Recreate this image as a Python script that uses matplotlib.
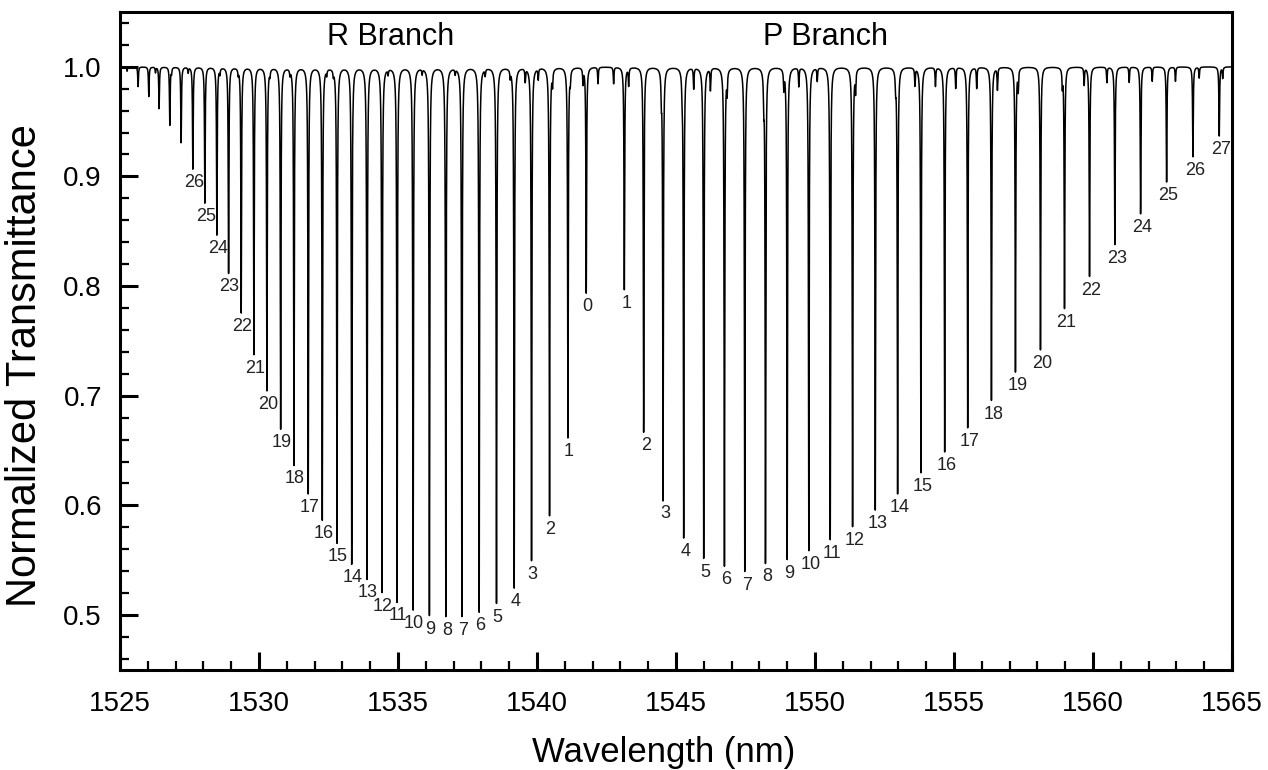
import numpy as np
import matplotlib.pyplot as plt
from matplotlib.ticker import MultipleLocator, FormatStrFormatter

plt.rcParams['font.family'] = ['Liberation Sans', 'DejaVu Sans']

# R branch lines, J = 0..31 (labels drawn for J <= 26)
r_center = [1541.773, 1541.114, 1540.452, 1539.804, 1539.181, 1538.544, 1537.921,
            1537.298, 1536.721, 1536.131, 1535.544, 1534.968, 1534.427, 1533.887,
            1533.336, 1532.807, 1532.278, 1531.773, 1531.259, 1530.780, 1530.286,
            1529.818, 1529.361, 1528.907, 1528.486, 1528.054, 1527.622, 1527.200,
            1526.793, 1526.408, 1526.037, 1525.652]
r_min = [0.794, 0.662, 0.591, 0.550, 0.525, 0.511, 0.503, 0.499, 0.499, 0.500,
         0.505, 0.512, 0.521, 0.533, 0.547, 0.566, 0.587, 0.611, 0.637, 0.670,
         0.705, 0.738, 0.776, 0.812, 0.847, 0.876, 0.907, 0.931, 0.947, 0.962,
         0.973, 0.982]
r_labeled = 27

# P branch lines, J = 1..27
p_center = [1543.142, 1543.837, 1544.535, 1545.277, 1545.997, 1546.743, 1547.474,
            1548.219, 1549.000, 1549.778, 1550.549, 1551.352, 1552.169, 1552.972,
            1553.811, 1554.665, 1555.493, 1556.347, 1557.211, 1558.111, 1558.975,
            1559.875, 1560.786, 1561.712, 1562.648, 1563.595, 1564.542]
p_min = [0.797, 0.667, 0.605, 0.571, 0.552, 0.545, 0.540, 0.548, 0.551, 0.559,
         0.569, 0.581, 0.596, 0.611, 0.630, 0.649, 0.671, 0.696, 0.722, 0.742,
         0.780, 0.809, 0.838, 0.866, 0.895, 0.918, 0.937]

# weak hot-band lines near the top
hot_center = [1525.256, 1526.278, 1526.855, 1527.452, 1528.594, 1529.253, 1530.394,
              1531.114, 1532.436, 1532.674, 1533.383, 1534.644, 1535.868, 1537.056,
              1538.136, 1539.036, 1539.577, 1540.045, 1540.560, 1541.197, 1541.655,
              1542.195, 1542.757, 1543.297, 1544.474, 1545.219, 1545.637, 1546.238,
              1546.840, 1548.158, 1548.878, 1549.418, 1550.081, 1551.460, 1552.900,
              1553.595, 1554.333, 1555.061, 1555.817, 1556.562, 1557.311, 1558.897,
              1559.682, 1560.499, 1561.302, 1562.130, 1562.966, 1563.819, 1564.665]
hot_min = [0.996, 0.995, 0.995, 0.995, 0.995, 0.995, 0.995, 0.995, 0.995, 0.995,
           0.996, 0.995, 0.995, 0.995, 0.994, 0.993, 0.988, 0.990, 0.987, 0.990,
           0.986, 0.985, 0.985, 0.984, 0.978, 0.985, 0.981, 0.980, 0.981, 0.974,
           0.983, 0.983, 0.988, 0.981, 0.986, 0.984, 0.983, 0.981, 0.981, 0.980,
           0.981, 0.985, 0.984, 0.986, 0.986, 0.987, 0.987, 0.990, 0.990]

gamma = 0.014  # nm, half width of each line

centers = np.array(r_center + p_center + hot_center)
mins = np.array(r_min + p_min + hot_min)
wl = np.union1d(np.arange(1525.0, 1565.0005, 0.001), centers)
trans = np.ones_like(wl)
for c, m in zip(centers, mins):
    trans *= 1 - (1 - m) * gamma**2 / ((wl - c)**2 + gamma**2)

fig = plt.figure(figsize=(12.68, 7.7), dpi=100)
ax = fig.add_axes([0.0946, 0.130, 0.8770, 0.8545])
ax.plot(wl, trans, color='black', lw=1.1)

label_font = dict(family=['Liberation Sans Narrow', 'Liberation Sans', 'DejaVu Sans'],
                  fontsize=13, color='#222222', ha='center', va='center')
for j in range(r_labeled):
    ax.annotate(str(j), (r_center[j], r_min[j]), xytext=(1, -14),
                textcoords='offset pixels', **label_font)
for j, (c, m) in enumerate(zip(p_center, p_min), start=1):
    ax.annotate(str(j), (c, m), xytext=(2, -14),
                textcoords='offset pixels', **label_font)

ax.text(1534.72, 1.027, 'R Branch', fontsize=22, ha='center', va='center')
ax.text(1550.38, 1.027, 'P Branch', fontsize=22, ha='center', va='center')

ax.set_xlim(1525, 1565)
ax.set_ylim(0.45, 1.05)
ax.xaxis.set_major_locator(MultipleLocator(5))
ax.xaxis.set_minor_locator(MultipleLocator(1))
ax.yaxis.set_major_locator(MultipleLocator(0.1))
ax.yaxis.set_minor_locator(MultipleLocator(0.02))
ax.yaxis.set_major_formatter(FormatStrFormatter('%.1f'))
ax.tick_params(which='major', direction='in', length=13, width=2.2, labelsize=20)
ax.tick_params(which='minor', direction='in', length=6.5, width=1.6)
ax.tick_params(axis='x', which='major', pad=15)
ax.tick_params(axis='y', which='major', pad=13)
for s in ax.spines.values():
    s.set_linewidth(2.2)

ax.set_xlabel('Wavelength (nm)', fontsize=25)
ax.xaxis.set_label_coords(0.489, -0.1)
ax.set_ylabel('Normalized Transmittance', fontsize=30)
ax.yaxis.set_label_coords(-0.067, 0.462)

fig.savefig('out.png', dpi=100)
